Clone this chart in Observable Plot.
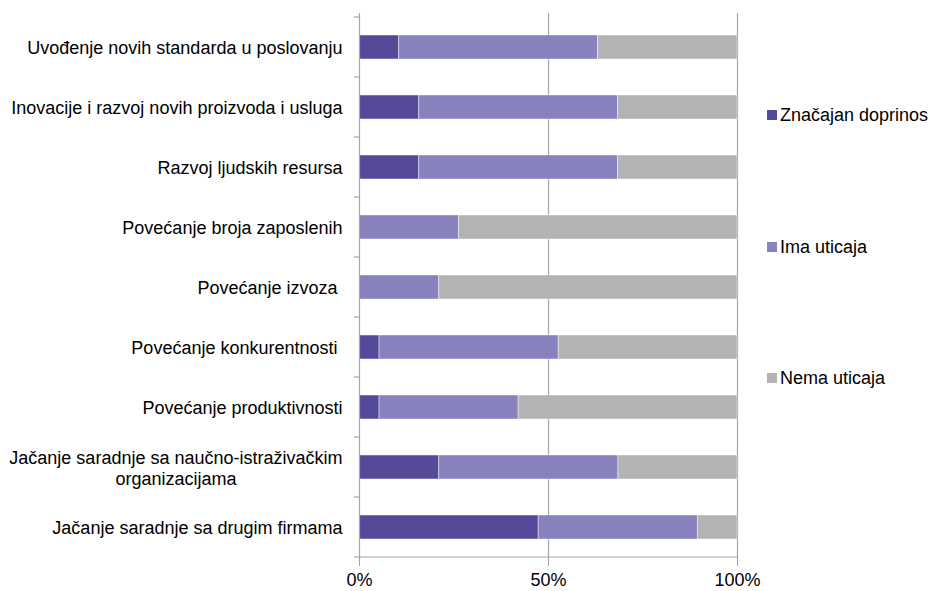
<!DOCTYPE html>
<html><head><meta charset="utf-8">
<script src="https://cdn.jsdelivr.net/npm/d3@7"></script>
<script src="https://cdn.jsdelivr.net/npm/@observablehq/plot@0.6"></script>
<style>
body{margin:0;background:#fff;font-family:"Liberation Sans",Arial,sans-serif;}
#wrap{position:relative;width:932px;height:591px;}
#legend{position:absolute;left:767px;top:0;}
.item{position:absolute;left:0;white-space:nowrap;font-size:18px;color:#000;display:flex;align-items:center;height:24px;}
.sw{width:10px;height:10px;margin-right:3px;flex:none;}
</style></head><body><div id="wrap"></div>
<script>
const categories = [
  "Uvođenje novih standarda u poslovanju",
  "Inovacije i razvoj novih proizvoda i usluga",
  "Razvoj ljudskih resursa",
  "Povećanje broja zaposlenih",
  "Povećanje izvoza\u00a0",
  "Povećanje konkurentnosti\u00a0",
  "Povećanje produktivnosti",
  "Jačanje saradnje sa naučno-istraživačkim\norganizacijama",
  "Jačanje saradnje sa drugim firmama"
];
const series = ["Značajan doprinos", "Ima uticaja", "Nema uticaja"];
const colors = ["#55499a", "#8781bd", "#b3b3b3"];
const znacajan = [10.5, 15.8, 15.8, 0, 0, 5.3, 5.3, 21.1, 47.4];
const imaUticaja = [52.6, 52.6, 52.6, 26.3, 21.1, 47.4, 36.8, 47.4, 42.1];
const nemaUticaja = [36.9, 31.6, 31.6, 73.7, 78.9, 47.3, 57.9, 31.5, 10.5];
const xTicks = [0, 50, 100];
const legendY = [115, 247, 378];

const valuesBySeries = [znacajan, imaUticaja, nemaUticaja];
const table = [];
categories.forEach((c, i) => series.forEach((s, j) => {
  if (valuesBySeries[j][i] > 0) table.push({cat: c, series: s, value: valuesBySeries[j][i]});
}));

const gray = "#a6a6a6";

function boundaryTicks(index, scales, values, dims) {
  const y = scales.y, x = scales.x;
  const step = y(categories[1]) - y(categories[0]);
  const x0 = x(0);
  const ys = categories.map(c => y(c) - 0.3 * step);
  ys.push(y(categories[categories.length - 1]) + 0.7 * step);
  const g = d3.create("svg:g").attr("stroke", gray).attr("stroke-width", 1.2);
  ys.forEach(v => g.append("line").attr("x1", x0 - 5).attr("x2", x0).attr("y1", v).attr("y2", v));
  const yb = ys[ys.length - 1];
  g.append("line").attr("x1", x0).attr("x2", x(100)).attr("y1", yb).attr("y2", yb);
  return g.node();
}

const chart = Plot.plot({
  width: 932,
  height: 591,
  marginLeft: 359,
  marginRight: 195,
  marginTop: 13,
  marginBottom: 30,
  style: {fontFamily: "'Liberation Sans', Arial, sans-serif", fontSize: "18px", color: "#000", background: "#fff"},
  x: {domain: [0, 100], axis: null, label: null},
  y: {domain: categories, paddingInner: 0.6, paddingOuter: 0.3, axis: null},
  color: {domain: series, range: colors},
  marks: [
    Plot.ruleX([50, 100], {stroke: gray, strokeWidth: 1.2}),
    Plot.barX(table, {y: "cat", x: "value", fill: "series", order: series, stroke: "#fff", strokeOpacity: 0.55, strokeWidth: 0.8}),
    Plot.ruleX([0], {stroke: gray, strokeWidth: 1.2}),
    boundaryTicks,
    Plot.axisX({ticks: xTicks, tickFormat: d => d + "%", tickSize: 5, tickPadding: 7, stroke: gray, fontSize: 18, fill: "#000", label: null}),
    Plot.text(categories, {y: d => d, text: d => d, frameAnchor: "left", textAnchor: "end", dx: -17, lineHeight: 1.17, fontSize: 18, fill: "#000"})
  ]
});

const wrap = document.getElementById("wrap");
wrap.appendChild(chart);

// center-align lines of multi-line category labels (as in the reference)
chart.querySelectorAll("text").forEach(t => {
  const spans = t.querySelectorAll("tspan");
  if (spans.length > 1) {
    const w = Math.max(...Array.from(spans, s => s.getComputedTextLength()));
    t.setAttribute("text-anchor", "middle");
    spans.forEach(s => s.setAttribute("x", -w / 2));
  }
});

const legend = document.createElement("div");
legend.id = "legend";
series.forEach((s, i) => {
  const item = document.createElement("div");
  item.className = "item";
  item.style.top = (legendY[i] - 12) + "px";
  const sw = document.createElement("span");
  sw.className = "sw";
  sw.style.background = colors[i];
  const tx = document.createElement("span");
  tx.textContent = s;
  item.appendChild(sw);
  item.appendChild(tx);
  legend.appendChild(item);
});
wrap.appendChild(legend);
</script>
</body></html>
